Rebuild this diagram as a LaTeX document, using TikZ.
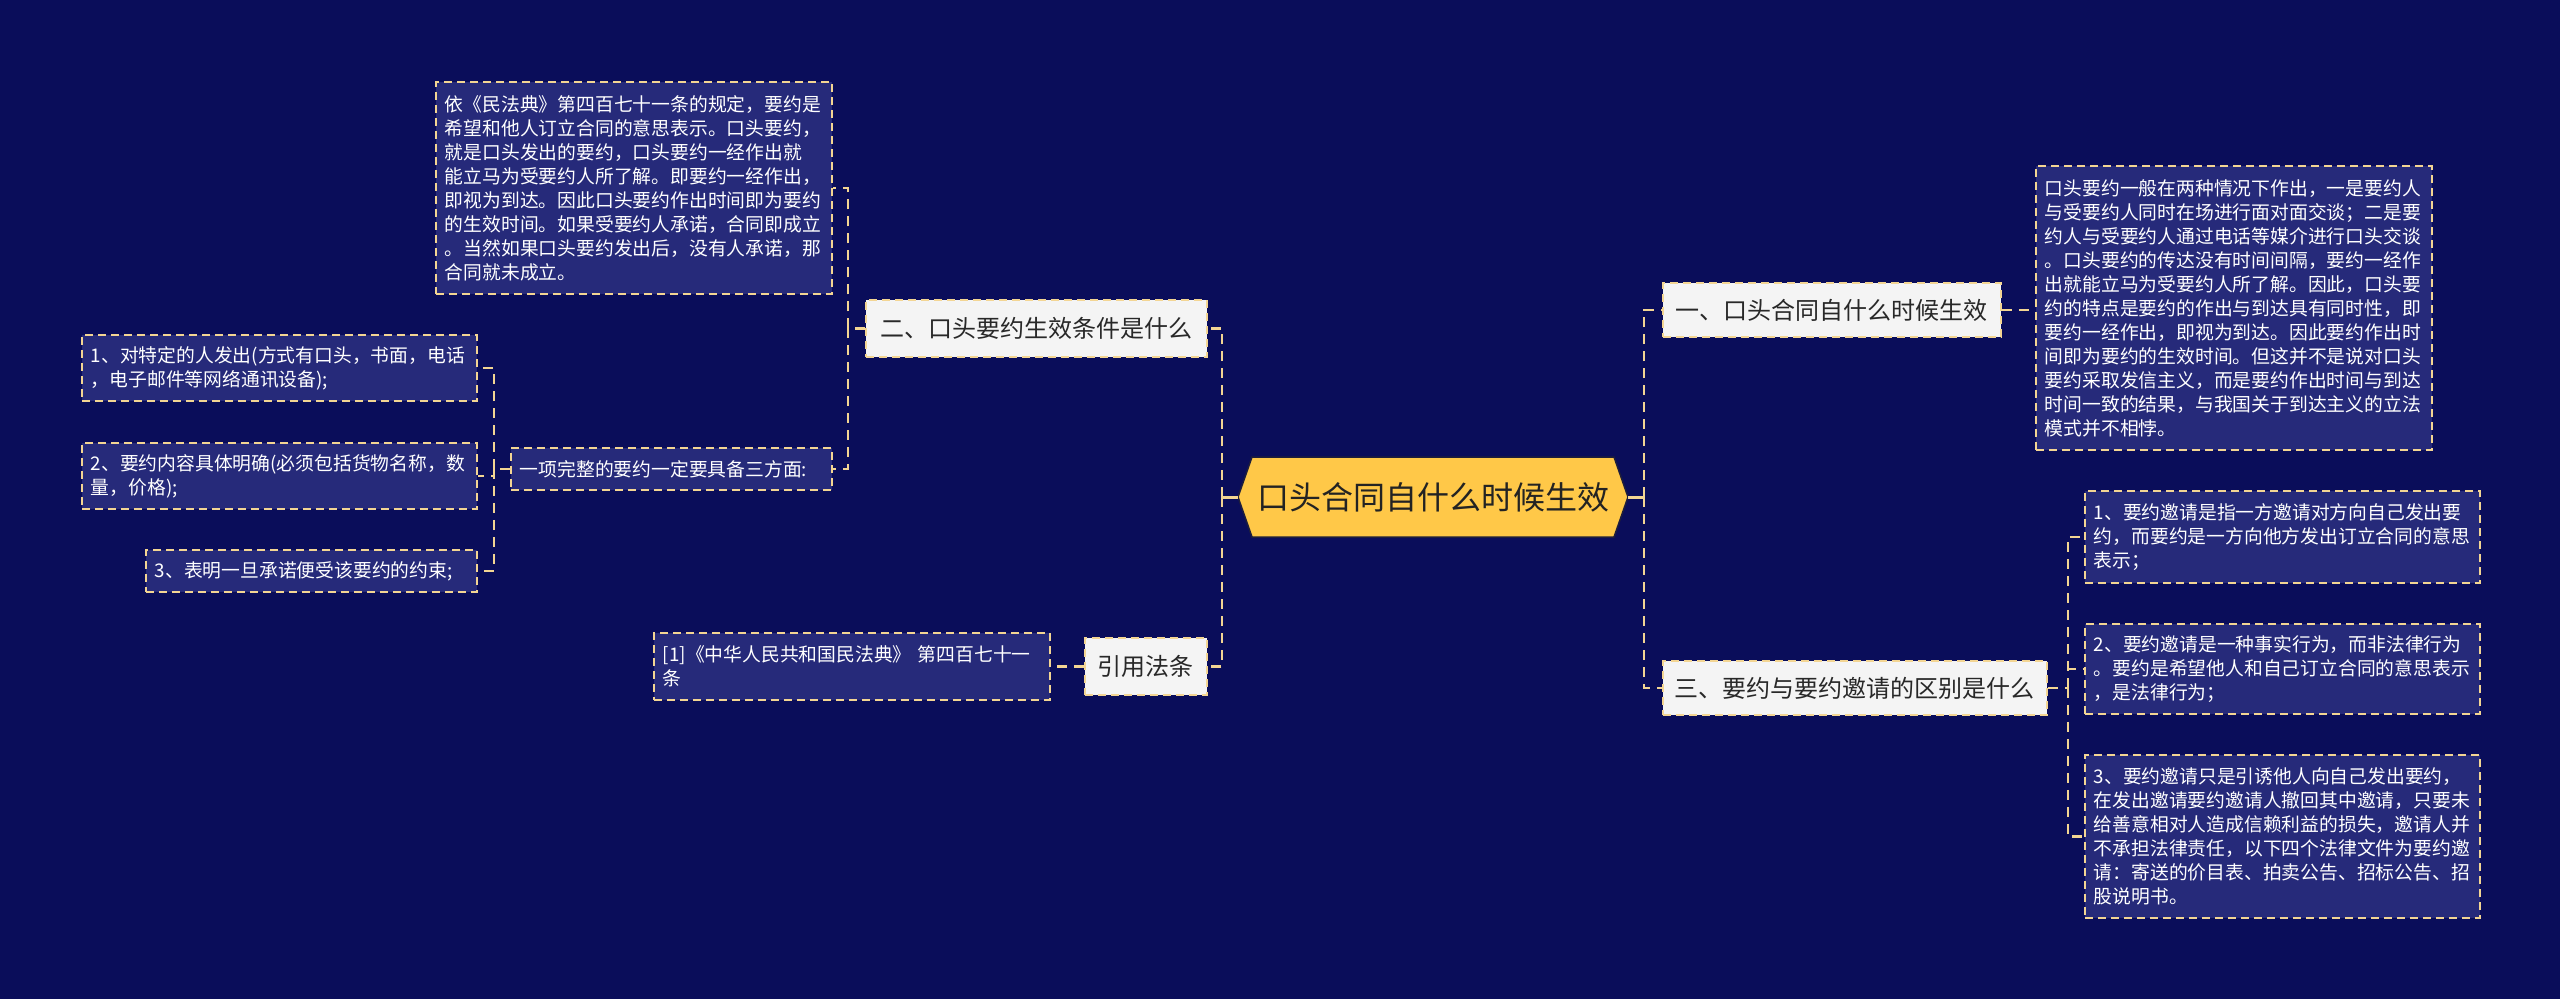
\documentclass[tikz,border=0pt]{standalone}
\usepackage{fontspec}
\setmainfont{Noto Sans CJK SC}
\definecolor{bg}{RGB}{10,13,90}
\definecolor{dfill}{RGB}{38,42,122}
\definecolor{lc}{RGB}{243,213,147}
\definecolor{bfill}{RGB}{244,244,244}
\definecolor{btext}{RGB}{40,40,40}
\definecolor{rootfill}{RGB}{255,200,72}
\definecolor{rootline}{RGB}{30,30,60}
\definecolor{roottext}{RGB}{35,35,35}
\tikzset{
  det/.style={draw=lc, fill=dfill, line width=1.8pt, dash pattern=on 8pt off 5pt,
    text=white, font=\fontsize{18.8}{24}\selectfont, align=left,
    inner xsep=9pt, inner ysep=0pt, anchor=north west},
  br/.style={draw=lc, fill=bfill, line width=1.8pt, dash pattern=on 8pt off 5pt,
    text=btext, font=\fontsize{24}{28}\selectfont, align=center,
    inner sep=0pt, anchor=north west},
  conn/.style={draw=lc, line width=2.6pt, dash pattern=on 10pt off 7pt},
  solidconn/.style={draw=lc, line width=3pt}
}
\begin{document}
\begin{tikzpicture}[x=1pt,y=-1pt]
\useasboundingbox (0,0) rectangle (2560,999);
\fill[bg] (0,0) rectangle (2560,999);

% root
\fill[rootfill, draw=rootline, line width=1.5pt] (1238,497) -- (1252,457) -- (1614,457) -- (1628,497) -- (1614,537) -- (1252,537) -- cycle;
\node[font=\fontsize{32}{36}\selectfont, text=roottext, minimum width=390pt, minimum height=80pt, inner sep=0pt] (root) at (1433,497) {口头合同自什么时候生效};

% left side
\node[br, minimum width=341pt, minimum height=57pt] (b2) at (865,299) {二、口头要约生效条件是什么};
\node[br, minimum width=122pt, minimum height=57pt] (cite) at (1084,637) {引用法条};

\node[det, text width=378pt, minimum height=212pt] (d1) at (435,81) {依《民法典》第四百七十一条的规定，要约是\\希望和他人订立合同的意思表示。口头要约，\\就是口头发出的要约，口头要约一经作出就\\能立马为受要约人所了解。即要约一经作出，\\即视为到达。因此口头要约作出时间即为要约\\的生效时间。如果受要约人承诺，合同即成立\\。当然如果口头要约发出后，没有人承诺，那\\合同就未成立。};

\node[det, text width=303pt, minimum height=42pt] (req) at (510,447) {一项完整的要约一定要具备三方面:};

\node[det, text width=377pt, minimum height=66pt] (i1) at (81,334) {1、对特定的人发出(方式有口头，书面，电话\\，电子邮件等网络通讯设备);};
\node[det, text width=377pt, minimum height=66pt] (i2) at (81,442) {2、要约内容具体明确(必须包括货物名称，数\\量，价格);};
\node[det, text width=313pt, minimum height=42pt] (i3) at (145,549) {3、表明一旦承诺便受该要约的约束;};

\node[det, text width=378pt, minimum height=67pt] (ref) at (653,632) {[1]《中华人民共和国民法典》~第四百七十一\\条};

% right side
\node[br, minimum width=338pt, minimum height=54pt] (r1) at (1662,282) {一、口头合同自什么时候生效};
\node[br, minimum width=384pt, minimum height=54pt] (r3) at (1662,660) {三、要约与要约邀请的区别是什么};

\node[det, text width=378pt, minimum height=284pt] (rd) at (2035,165) {口头要约一般在两种情况下作出，一是要约人\\与受要约人同时在场进行面对面交谈；二是要\\约人与受要约人通过电话等媒介进行口头交谈\\。口头要约的传达没有时间间隔，要约一经作\\出就能立马为受要约人所了解。因此，口头要\\约的特点是要约的作出与到达具有同时性，即\\要约一经作出，即视为到达。因此要约作出时\\间即为要约的生效时间。但这并不是说对口头\\要约采取发信主义，而是要约作出时间与到达\\时间一致的结果，与我国关于到达主义的立法\\模式并不相悖。};

\node[det, text width=377pt, minimum height=92pt] (s1) at (2084,490) {1、要约邀请是指一方邀请对方向自己发出要\\约，而要约是一方向他方发出订立合同的意思\\表示；};
\node[det, text width=377pt, minimum height=90pt] (s2) at (2084,623) {2、要约邀请是一种事实行为，而非法律行为\\。要约是希望他人和自己订立合同的意思表示\\，是法律行为；};
\node[det, text width=377pt, minimum height=163pt] (s3) at (2084,754) {3、要约邀请只是引诱他人向自己发出要约，\\在发出邀请要约邀请人撤回其中邀请，只要未\\给善意相对人造成信赖利益的损失，邀请人并\\不承担法律责任，以下四个法律文件为要约邀\\请：寄送的价目表、拍卖公告、招标公告、招\\股说明书。};

% connectors left
\coordinate (ls) at (1222,497);
\draw[solidconn] (root.west) -- (ls);
\draw[conn] (ls) |- (b2.east);
\draw[conn] (ls) |- (cite.east);

\path (b2.west) ++(-17,0) coordinate (l2);
\draw[conn] (b2.west) -- (l2);
\draw[conn] (l2) |- (d1.east);
\draw[conn] (l2) |- (req.east);

\path (req.west) ++(-16,0) coordinate (l3);
\draw[conn] (req.west) -- (l3);
\draw[conn] (l3) |- (i1.east);
\draw[conn] (l3) |- (i2.east);
\draw[conn] (l3) |- (i3.east);

\draw[conn] (cite.west) -- (ref.east);

% connectors right
\coordinate (rs) at (1644,497);
\draw[solidconn] (root.east) -- (rs);
\draw[conn] (rs) |- (r1.west);
\draw[conn] (rs) |- (r3.west);

\draw[conn] (r1.east) -- (r1.east -| rd.west);

\path (r3.east) ++(20,0) coordinate (r3s);
\draw[conn] (r3.east) -- (r3s);
\draw[conn] (r3s) |- (s1.west);
\draw[conn] (r3s) |- (s2.west);
\draw[conn] (r3s) |- (s3.west);
\end{tikzpicture}
\end{document}
